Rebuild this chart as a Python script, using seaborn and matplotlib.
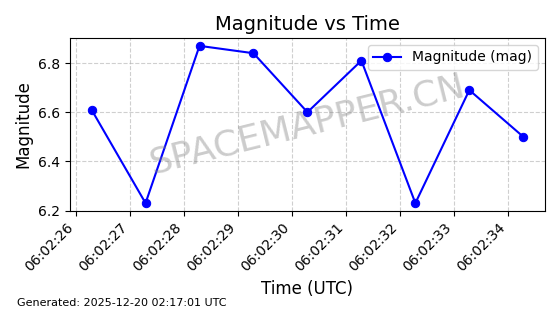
import matplotlib
matplotlib.use("Agg")
import matplotlib.pyplot as plt
import matplotlib.dates as mdates
import seaborn as sns
import pandas as pd

times = ["2025-12-20 06:02:26.28", "2025-12-20 06:02:27.28", "2025-12-20 06:02:28.28",
         "2025-12-20 06:02:29.28", "2025-12-20 06:02:30.28", "2025-12-20 06:02:31.28",
         "2025-12-20 06:02:32.28", "2025-12-20 06:02:33.28", "2025-12-20 06:02:34.28"]
magnitudes = [6.61, 6.23, 6.87, 6.84, 6.60, 6.81, 6.23, 6.69, 6.50]

df = pd.DataFrame({"time": pd.to_datetime(times), "mag": magnitudes})

fig, ax = plt.subplots(figsize=(5.6, 3.14), dpi=100)
fig.subplots_adjust(left=0.125, right=0.973, top=0.879, bottom=0.328)

sns.lineplot(data=df, x="time", y="mag", ax=ax, color="blue", marker="o",
             markersize=6, markeredgecolor="blue", linewidth=1.5,
             label="Magnitude (mag)")

ax.set_title("Magnitude vs Time", fontsize=14)
ax.set_xlabel("Time (UTC)", fontsize=12)
ax.set_ylabel("Magnitude", fontsize=12)
ax.grid(True, linestyle="--", alpha=0.6)
ax.xaxis.set_major_locator(mdates.SecondLocator())
ax.xaxis.set_major_formatter(mdates.DateFormatter("%H:%M:%S"))
plt.setp(ax.get_xticklabels(), rotation=45, ha="right")
ax.legend(loc="upper right")

ax.text(0.5, 0.5, "SPACEMAPPER.CN", transform=ax.transAxes, fontsize=26,
        color="gray", alpha=0.4, rotation=14, ha="center", va="center")

fig.text(0.03, 0.025, "Generated: 2025-12-20 02:17:01 UTC", fontsize=8)

fig.savefig("out.png", dpi=100)
